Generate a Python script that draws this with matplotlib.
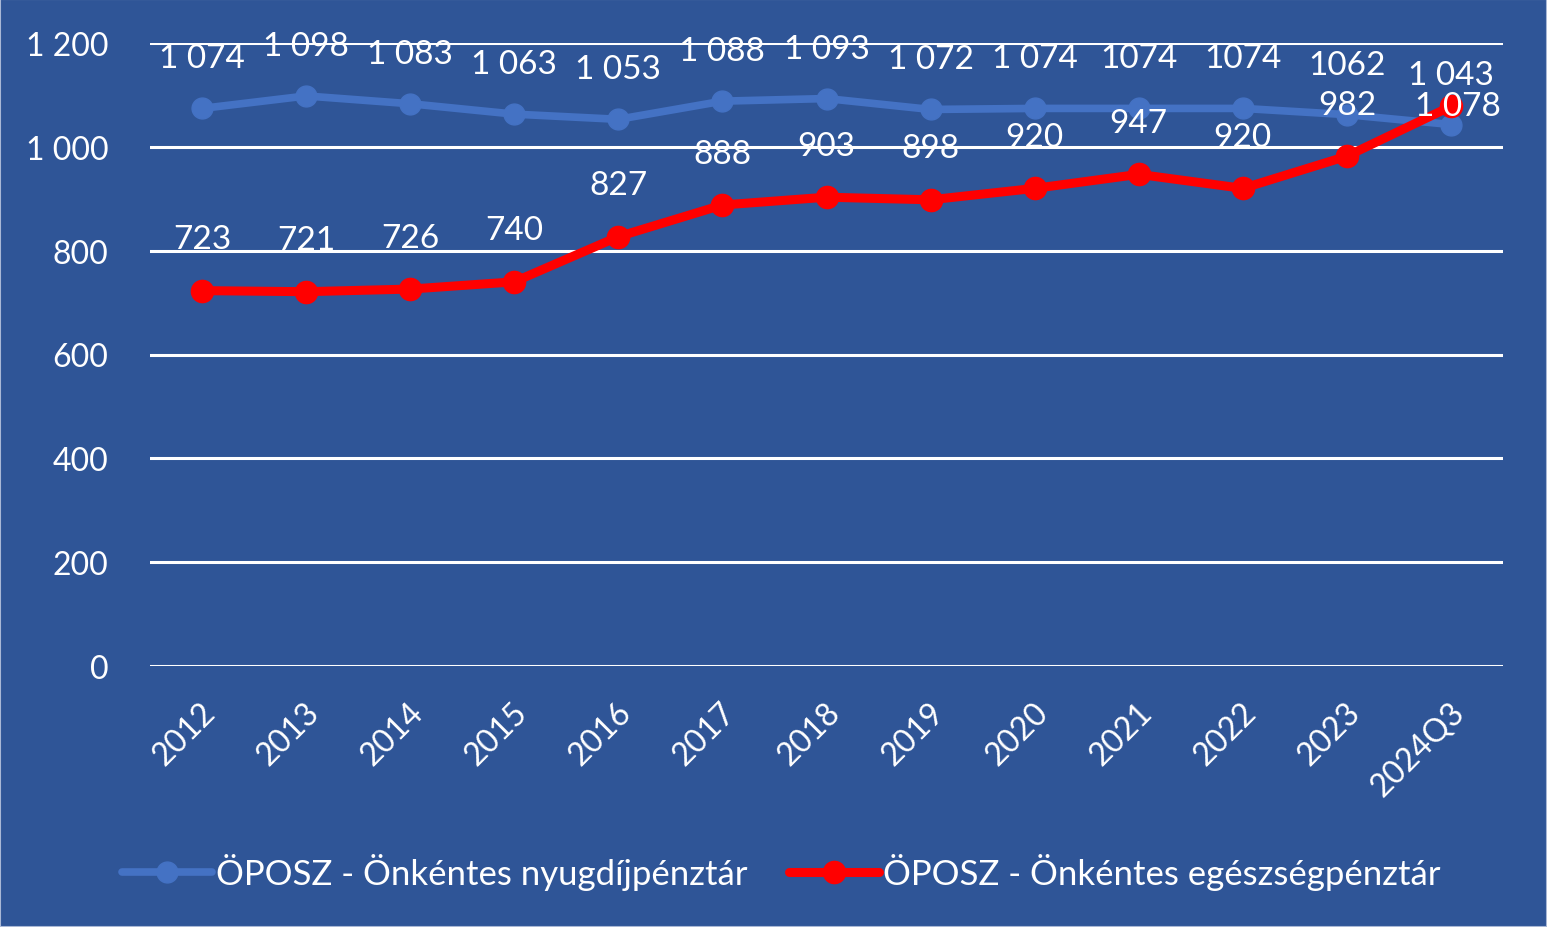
import matplotlib
matplotlib.use("Agg")
import matplotlib.pyplot as plt
import matplotlib.transforms as mtransforms
from matplotlib.patches import Rectangle

# --- data -------------------------------------------------------------
CATEGORIES = ["2012", "2013", "2014", "2015", "2016", "2017", "2018",
              "2019", "2020", "2021", "2022", "2023", "2024Q3"]
NYUGDIJ = [1074, 1098, 1083, 1063, 1053, 1088, 1093, 1072, 1074, 1074, 1074, 1062, 1043]
NYUGDIJ_LABELS = ["1 074", "1 098", "1 083", "1 063", "1 053", "1 088", "1 093",
                  "1 072", "1 074", "1074", "1074", "1062", "1 043"]
EGESZSEG = [723, 721, 726, 740, 827, 888, 903, 898, 920, 947, 920, 982, 1078]
EGESZSEG_LABELS = ["723", "721", "726", "740", "827", "888", "903",
                   "898", "920", "947", "920", "982", "1 078"]
Y_TICKS = [0, 200, 400, 600, 800, 1000, 1200]
Y_TICK_LABELS = ["0", "200", "400", "600", "800", "1 000", "1 200"]
SERIES_NAMES = ["ÖPOSZ - Önkéntes nyugdíjpénztár", "ÖPOSZ - Önkéntes egészségpénztár"]

BG = "#2F5597"
BLUE = "#4472C4"
RED = "#FF0000"

plt.rcParams["font.family"] = ["Lato", "DejaVu Sans"]

fig = plt.figure(figsize=(15.47, 9.28), dpi=100, facecolor=BG)
fig.patches.append(Rectangle((0, 0), 1, 1, transform=fig.transFigure, fill=False,
                             edgecolor="#A9B8D6", linewidth=1.5))
ax = fig.add_axes([150 / 1547, 1 - 667 / 928, 1353 / 1547, 623 / 928])
ax.set_facecolor(BG)

x = list(range(len(CATEGORIES)))

ax.set_ylim(0, 1200)
ax.set_xlim(-0.5, len(CATEGORIES) - 0.5)
ax.set_yticks(Y_TICKS)
ax.set_yticklabels(Y_TICK_LABELS)
ax.grid(True, axis="y", color="white", linewidth=2.2, zorder=1)
ax.set_axisbelow(True)
for sp in ax.spines.values():
    sp.set_visible(False)
ax.tick_params(axis="both", length=0, colors="white", labelsize=23)
ax.tick_params(axis="y", pad=30)

l1, = ax.plot(x, NYUGDIJ, color=BLUE, linewidth=5.5, marker="o", markersize=15,
              solid_capstyle="round", label=SERIES_NAMES[0], zorder=3)
l2, = ax.plot(x, EGESZSEG, color=RED, linewidth=6.5, marker="o", markersize=16,
              solid_capstyle="round", label=SERIES_NAMES[1], zorder=4)

for xi, v, lab in zip(x, NYUGDIJ, NYUGDIJ_LABELS):
    ax.annotate(lab, (xi, v), xytext=(0, 36), textcoords="offset points",
                ha="center", va="center", color="white", fontsize=24, zorder=5)
for i, (xi, v, lab) in enumerate(zip(x, EGESZSEG, EGESZSEG_LABELS)):
    dy = 0 if i == len(x) - 1 else 37
    dx = 5 if i == len(x) - 1 else 0
    ax.annotate(lab, (xi, v), xytext=(dx, dy), textcoords="offset points",
                ha="center", va="center", color="white", fontsize=24, zorder=5)

ax.set_xticks(x)
ax.set_xticklabels(CATEGORIES, rotation=45, ha="right", rotation_mode="anchor")
ax.tick_params(axis="x", pad=22)
offset = mtransforms.ScaledTranslation(-0.02, 0, fig.dpi_scale_trans)
for lbl in ax.get_xticklabels():
    lbl.set_transform(lbl.get_transform() + offset)

leg = fig.legend(handles=[l1, l2], loc="center", bbox_to_anchor=(0.505, 0.06),
                 ncol=2, frameon=False, fontsize=25, labelcolor="white",
                 handlelength=2.6, handletextpad=0.1, columnspacing=1.2)

fig.savefig("out.png", dpi=100, facecolor=BG)
